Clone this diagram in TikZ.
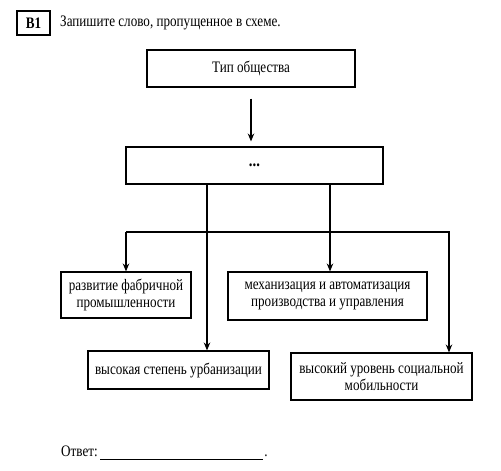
\documentclass[tikz,border=0pt]{standalone}
\usepackage{fontspec}
\setmainfont[FakeStretch=0.82]{Liberation Serif}
\usetikzlibrary{arrows.meta}

\begin{document}
\begin{tikzpicture}[x=1pt, y=-1pt,
    every node/.style={font=\fontsize{16}{17.5}\selectfont, inner sep=0pt},
    box/.style={draw, line width=1.1pt, align=center},
    arr/.style={line width=1.1pt, -{Stealth[length=8pt, width=6.5pt]}}]
      \useasboundingbox (0,0) rectangle (501,471);
      \node[box, minimum width=33pt, minimum height=24pt, font=\fontsize{16}{17}\selectfont\bfseries] (b1) at (33.5,23) {B1};
      \node[anchor=base west] (task) at (60,27) {Запишите слово, пропущенное в схеме.};
      \node[box, minimum width=208pt, minimum height=37pt] (type) at (251,68.5) {Тип общества};
      \node[box, minimum width=257pt, minimum height=37pt, font=\fontsize{18}{17}\selectfont\bfseries] (dots) at (254.5,165.5) {...};
      \node[box, minimum width=130pt, minimum height=46pt] (fab) at (126,295) {развитие фабричной\\промышленности};
      \node[box, minimum width=199pt, minimum height=48pt] (mech) at (327.5,296) {механизация и автоматизация\\производства и управления};
      \node[box, minimum width=181pt, minimum height=38pt] (urb) at (178.5,370) {высокая степень урбанизации};
      \node[box, minimum width=181pt, minimum height=47pt] (mob) at (381.5,376.5) {высокий уровень социальной\\мобильности};
      \node[anchor=base west] (answer) at (61,456) {Ответ:};
      \coordinate (blank) at (100,459);
      \coordinate (busl) at (126,232);
      \coordinate (busr) at (449,232);
      \draw[line width=0.8pt] (blank) -- ++(163,0) node[anchor=base west, inner sep=1pt] (stop) at (263,456) {.};
      \draw[arr, shorten <=11pt, shorten >=5pt] (type.south) -- (type.south |- dots.north);
      \draw[arr] (dots.south -| 207,0) -- (urb.north -| 207,0);
      \draw[arr] (dots.south -| 330,0) -- (mech.north -| 330,0);
      \draw[arr] (busl) -| (mob.north -| busr);
      \draw[arr] (busl) -- (fab.north);
    \end{tikzpicture}
\end{document}
